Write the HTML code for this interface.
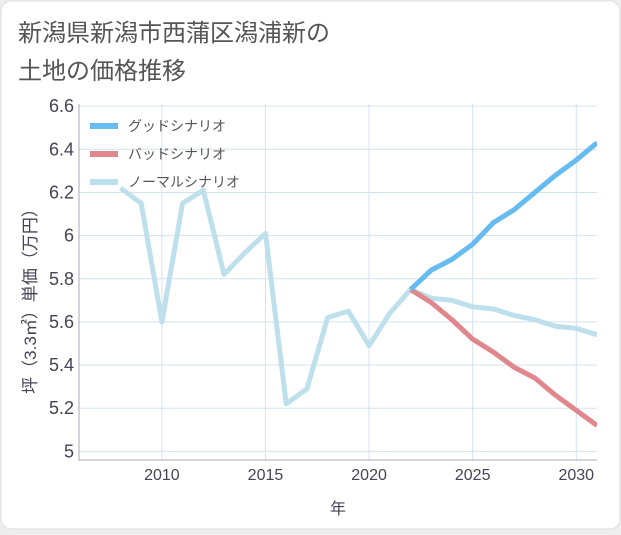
<!DOCTYPE html>
<html><head><meta charset="utf-8"><style>
body{margin:0;background:#eeeeee;font-family:"Liberation Sans","Noto Sans CJK JP",sans-serif;}
#wrap{position:relative;width:621px;height:530px;}
</style></head><body>
<div id="wrap">
<svg id="svg" width="621" height="530" xmlns="http://www.w3.org/2000/svg">
<rect x="1" y="1" width="619" height="528" rx="10" fill="#ffffff" stroke="#dddddd"/>
<text x="18" y="41" font-size="24" fill="#555" font-family="Liberation Sans,Noto Sans CJK JP,sans-serif">新潟県新潟市西蒲区潟浦新の</text>
<text x="18" y="79" font-size="24" fill="#555" font-family="Liberation Sans,Noto Sans CJK JP,sans-serif">土地の価格推移</text>
<g id="grid"></g>
<g id="lines"></g>
<g id="legend"></g>
<text x="338" y="514" font-size="16" fill="#445" text-anchor="middle" font-family="Liberation Sans,Noto Sans CJK JP,sans-serif">年</text>
<text transform="translate(36,297) rotate(-90)" font-size="17" fill="#445" text-anchor="middle" font-family="Liberation Sans,Noto Sans CJK JP,sans-serif">坪（3.3㎡）単価（万円）</text>
</svg>
</div>
<script>
const years=[2008,2009,2010,2011,2012,2013,2014,2015,2016,2017,2018,2019,2020,2021,2022,2023,2024,2025,2026,2027,2028,2029,2030,2031];
const normalValues=[6.22,6.15,5.6,6.15,6.21,5.82,5.92,6.01,5.22,5.29,5.62,5.65,5.49,5.64,5.75,5.71,5.70,5.67,5.66,5.63,5.61,5.58,5.57,5.54];
const forecastYears=[2022,2023,2024,2025,2026,2027,2028,2029,2030,2031];
const goodValues=[5.75,5.84,5.89,5.96,6.06,6.12,6.20,6.28,6.35,6.43];
const badValues=[5.75,5.69,5.61,5.52,5.46,5.39,5.34,5.26,5.19,5.12];
const xTicks=[2010,2015,2020,2025,2030];
const yTicks=[5,5.2,5.4,5.6,5.8,6,6.2,6.4,6.6];
const yTickLabels=["5","5.2","5.4","5.6","5.8","6","6.2","6.4","6.6"];
const seriesNames=["グッドシナリオ","バッドシナリオ","ノーマルシナリオ"];

const L=79,R=597,T=104,B=460,X0=2006,X1=2031,Y0=4.96,Y1=6.61;
const sx=v=>L+(v-X0)/(X1-X0)*(R-L);
const sy=v=>B-(v-Y0)/(Y1-Y0)*(B-T);
const NS="http://www.w3.org/2000/svg";
function mk(t,a,p){const e=document.createElementNS(NS,t);for(const k in a)e.setAttribute(k,a[k]);p.appendChild(e);return e;}
const grid=document.getElementById('grid'),lines=document.getElementById('lines'),leg=document.getElementById('legend');
const svg=document.getElementById('svg');
const defs=mk('defs',{},svg);const cp=mk('clipPath',{id:'clip'},defs);mk('rect',{x:L,y:T,width:R-L,height:B-T},cp);
xTicks.forEach(t=>{
 const l=mk('line',{x1:sx(t),x2:sx(t),y1:T,y2:B,stroke:'#d3e3ee','stroke-width':1},grid);
 
 const tx=mk('text',{x:sx(t),y:B+20,'font-size':16,fill:'#445','text-anchor':'middle'},grid);
 tx.textContent=t;
});
yTicks.forEach((t,i)=>{
 const l=mk('line',{x1:L,x2:R,y1:sy(t),y2:sy(t),stroke:'#d3e3ee','stroke-width':1},grid);
 
 const tx=mk('text',{x:L-5,y:sy(t)+6,'font-size':18,fill:'#445','text-anchor':'end'},grid);
 tx.textContent=yTickLabels[i];
});
const ax=mk('path',{d:`M${L},${T}V${B}H${R}`,fill:'none',stroke:'#aab','stroke-width':1},grid);

function line(xs,vs,c,n){const p=mk('polyline',{points:xs.map((x,i)=>sx(x)+','+sy(vs[i])).join(' '),fill:'none',stroke:c,'stroke-width':5,'stroke-linejoin':'round','clip-path':'url(#clip)'},lines);
 }
line(years,normalValues,'#bde0ec','normal-scenario-line');
line(forecastYears,badValues,'#e0868d','bad-scenario-line');
line(forecastYears,goodValues,'#66bbf0','good-scenario-line');
const cols=['#66bbf0','#e0868d','#bde0ec'];
seriesNames.forEach((n,i)=>{const y=126+i*28;
 const r=mk('rect',{x:90,y:y-3,width:28,height:6,fill:cols[i]},leg);
 const t=mk('text',{x:128,y:y+5,'font-size':14,fill:'#555'},leg);t.textContent=n;});
</script>
</body></html>
